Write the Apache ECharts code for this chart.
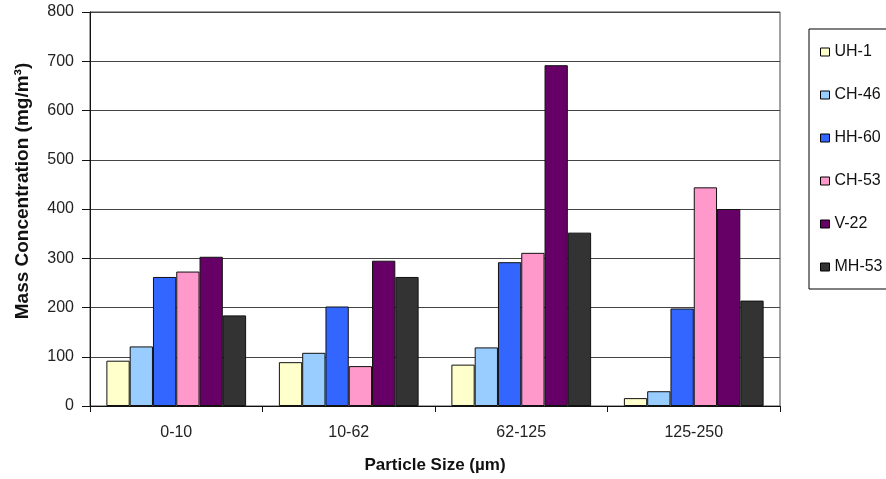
<!DOCTYPE html>
<html><head><meta charset="utf-8">
<script src="https://cdn.jsdelivr.net/npm/echarts@6/dist/echarts.min.js"></script>
<style>html,body{margin:0;padding:0;background:#fff}#c{width:886px;height:479px}</style>
</head><body><div id="c"></div>
<script>
const categories = ['0-10', '10-62', '62-125', '125-250'];
const seriesNames = ['UH-1', 'CH-46', 'HH-60', 'CH-53', 'V-22', 'MH-53'];
const uh1 = [92, 89, 84, 16];
const ch46 = [121, 108, 119, 30];
const hh60 = [262, 202, 292, 198];
const ch53 = [273, 81, 311, 444];
const v22 = [303, 295, 692, 400];
const mh53 = [184, 262, 352, 214];
const yTicks = [0, 100, 200, 300, 400, 500, 600, 700, 800];
const colors = ['#FFFFCC', '#99CCFF', '#3366FF', '#FF99CC', '#660066', '#333333'];
const values = [uh1, ch46, hh60, ch53, v22, mh53];

const chart = echarts.init(document.getElementById('c'));
chart.setOption({
  animation: false,
  textStyle: { fontFamily: 'Liberation Sans, Arial, sans-serif' },
  grid: { left: 90, top: 12, width: 690, height: 395, show: true, borderColor: '#444', borderWidth: 1, backgroundColor: 'transparent' },
  legend: {
    orient: 'vertical', left: 809, top: 29,
    data: seriesNames,
    borderColor: '#000', borderWidth: 1,
    padding: [15, 80, 14, 11],
    itemWidth: 9, itemHeight: 8, itemGap: 27, itemTextGap: 8,
    icon: 'rect',
    itemStyle: { borderColor: '#000', borderWidth: 1 },
    textStyle: { fontSize: 16, color: '#111', lineHeight: 16 }
  },
  xAxis: {
    type: 'category', data: categories,
    name: 'Particle Size (µm)', nameLocation: 'middle', nameGap: 51,
    nameTextStyle: { fontSize: 17, fontWeight: 'bold', color: '#111', verticalAlign: 'top' },
    axisLine: { lineStyle: { color: '#111' } },
    axisTick: { show: true, length: 6, lineStyle: { color: '#111' } },
    axisLabel: { fontSize: 16, color: '#222', margin: 19 }
  },
  yAxis: {
    type: 'value', min: 0, max: 800, interval: 100,
    name: 'Mass Concentration (mg/m³)', nameLocation: 'middle', nameGap: 58,
    nameTextStyle: { fontSize: 19, fontWeight: 'bold', color: '#111', padding: [0, 0, 0, 36] },
    axisLine: { show: true, lineStyle: { color: '#111' } },
    axisTick: { show: true, length: 8, lineStyle: { color: '#111' } },
    axisLabel: { fontSize: 16, color: '#222', margin: 16,
      formatter: v => yTicks.includes(v) ? String(v) : '' },
    splitLine: { show: true, lineStyle: { color: '#444', width: 1 } }
  },
  series: seriesNames.map((n, i) => ({
    name: n, type: 'bar', data: values[i],
    barGap: '0%', barCategoryGap: '19%',
    itemStyle: { color: colors[i], borderColor: '#111', borderWidth: 1 }
  }))
});
</script></body></html>
